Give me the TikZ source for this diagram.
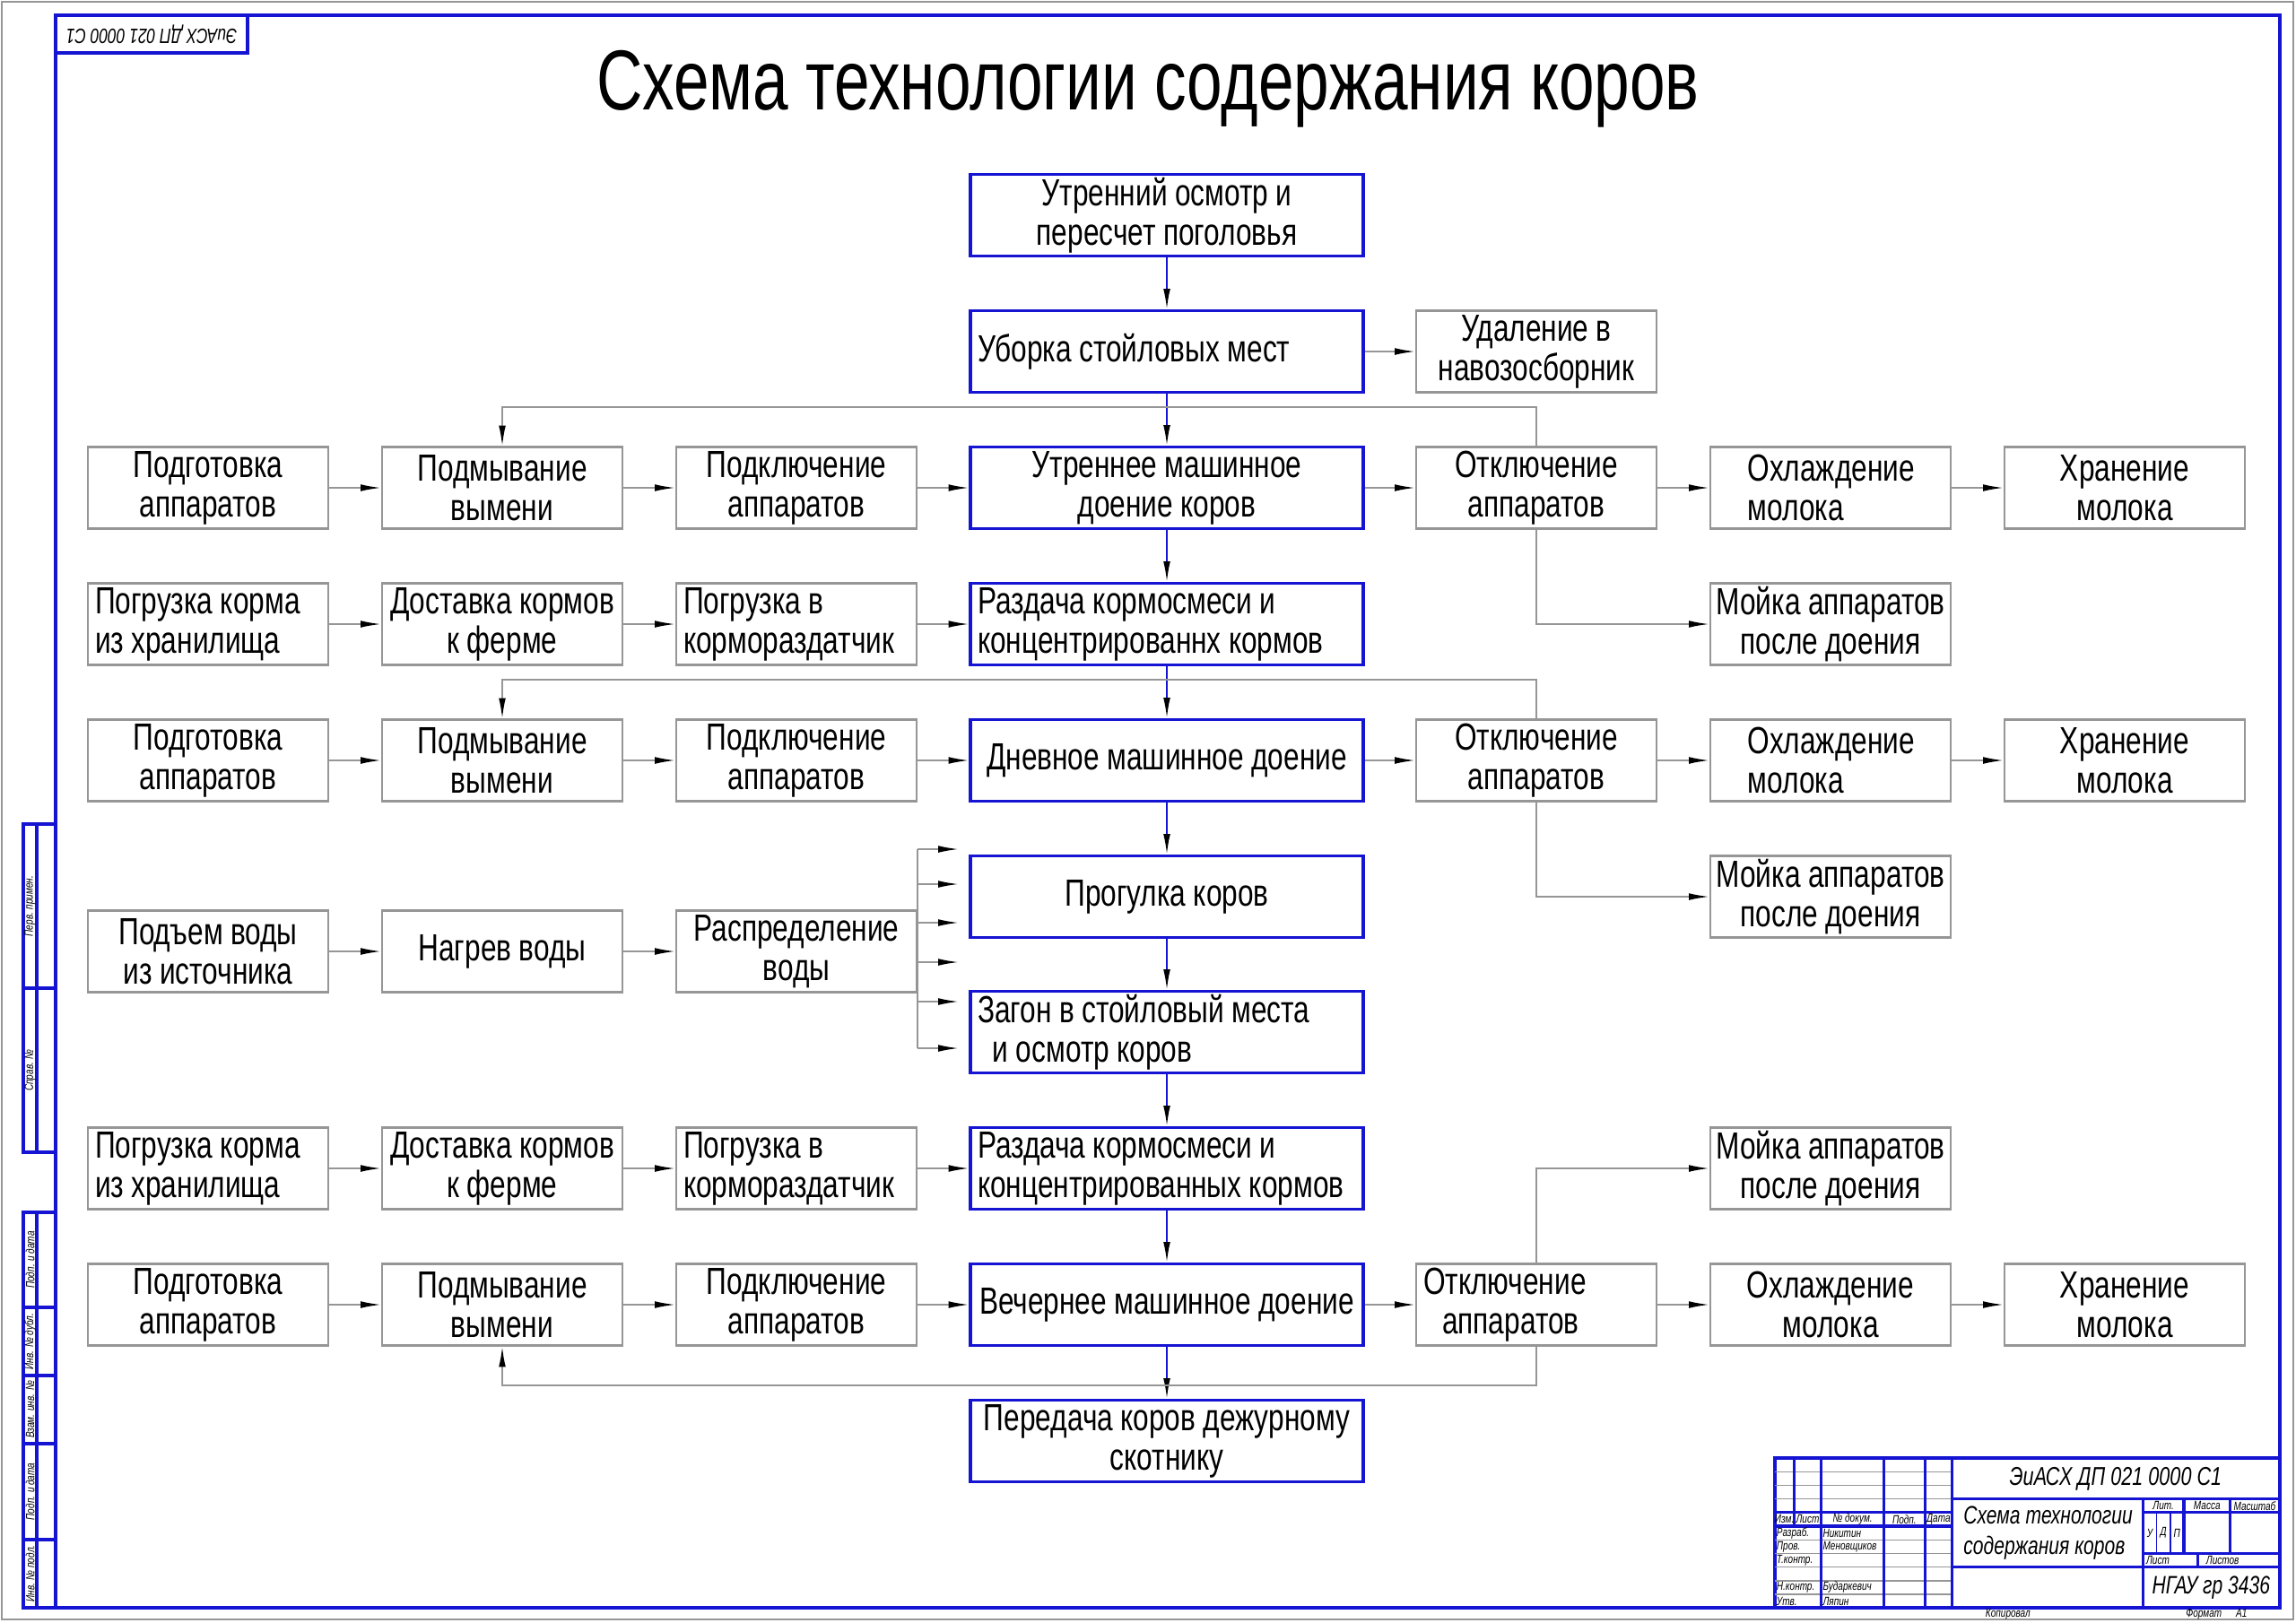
\documentclass[tikz,border=0pt]{standalone}
\usepackage{fontspec}
\setmainfont{Liberation Sans}[FakeStretch=0.75]
\usetikzlibrary{arrows.meta}
\definecolor{frameblue}{RGB}{20,20,210}
\definecolor{linegray}{RGB}{150,150,150}
\newcommand\tightsp{\spaceskip=0.2em\relax}

\begin{document}
\begin{tikzpicture}[
    box/.style={draw=linegray, line width=0.6pt, text width=2.52cm, minimum height=0.91cm,
      inner xsep=0.08cm, inner ysep=0pt, align=center,
      font=\fontsize{12}{12.5}\selectfont, execute at begin node=\tightsp},
    widebox/.style={box, text width=2.64cm, inner xsep=0.02cm},
    mainbox/.style={box, draw=frameblue, line width=0.9pt, text width=4.22cm},
    arr/.style={draw=linegray, line width=0.5pt, -{Latex[length=6.5pt,width=2.2pt,color=black]}},
    marr/.style={arr, draw=frameblue},
    tbline/.style={draw=frameblue, line width=0.9pt},
    tbthin/.style={draw=linegray, line width=0.4pt},
    lbl/.style={font=\fontsize{3.8}{4}\selectfont\itshape, inner sep=0pt}]
    \useasboundingbox (0,0) rectangle (25.6,-18.09);

    % sheet
    \draw[linegray, line width=0.6pt] (0.02,-0.02) rectangle (25.57,-18.06);
    \draw[tbline] (0.62,-0.17) rectangle (25.42,-17.93);
    \draw[tbline] (0.62,-0.17) rectangle (2.76,-0.59);
    \node[lbl, font=\fontsize{6.6}{7}\selectfont\itshape, rotate=180] (stamp) at (1.69,-0.38) {ЭиАСХ ДП 021 0000 С1};

    % left strip
    \draw[tbline] (0.26,-9.19) rectangle (0.62,-12.85);
    \draw[tbline] (0.41,-9.19) -- (0.41,-12.85) (0.26,-11.02) -- (0.62,-11.02);
    \node[lbl, rotate=90] (s1) at (0.335,-10.105) {Перв. примен.};
    \node[lbl, rotate=90] (s2) at (0.335,-11.935) {Справ. №};
    \draw[tbline] (0.26,-13.52) rectangle (0.62,-17.93);
    \draw[tbline] (0.41,-13.52) -- (0.41,-17.93);
    \foreach \y in {14.58,15.34,16.10,17.17}
      \draw[tbline] (0.26,-\y) -- (0.62,-\y);
    \foreach \y/\t [count=\k] in {14.05/Подп. и дата, 14.96/Инв. № дубл., 15.72/Взам. инв. №,
        16.635/Подп. и дата, 17.55/Инв. № подл.}
      \node[lbl, rotate=90] (v\k) at (0.335,-\y) {\t};

    \node[font=\fontsize{27}{29}\selectfont, execute at begin node=\tightsp, anchor=base] (title) at (12.80,-1.22) {Схема технологии содержания коров};

    % main column
    \node[mainbox] (m1) at (13.01,-2.40) {Утренний осмотр и\\пересчет поголовья};
    \node[mainbox, align=left] (m2) at (13.01,-3.92) {Уборка стойловых мест};
    \node[mainbox] (m3) at (13.01,-5.44) {Утреннее машинное\\доение коров};
    \node[mainbox, align=left] (m4) at (13.01,-6.96) {Раздача кормосмеси и\\концентрированнх кормов};
    \node[mainbox] (m5) at (13.01,-8.48) {Дневное машинное доение};
    \node[mainbox] (m6) at (13.01,-10.00) {Прогулка коров};
    \node[mainbox, align=left] (m7) at (13.01,-11.51) {Загон в стойловый места\\\hspace{0.4em}и осмотр коров};
    \node[mainbox, align=left] (m8) at (13.01,-13.03) {Раздача кормосмеси и\\концентрированных кормов};
    \node[mainbox] (m9) at (13.01,-14.55) {Вечернее машинное доение};
    \node[mainbox] (m10) at (13.01,-16.07) {Передача коров дежурному\\скотнику};

    \node[box] (e2) at (17.13,-3.92) {Удаление в\\навозосборник};

    \node[box] (a3) at (2.32,-5.44) {Подготовка\\аппаратов};
    \node[box] (b3) at (5.60,-5.44) {Подмывание\\вымени};
    \node[box] (c3) at (8.88,-5.44) {Подключение\\аппаратов};
    \node[box] (e3) at (17.13,-5.44) {Отключение\\аппаратов};
    \node[box, align=left] (f3) at (20.41,-5.44) {\hspace{0.8em}Охлаждение\\\hspace{0.8em}молока};
    \node[box] (g3) at (23.69,-5.44) {Хранение\\молока};

    \node[box, align=left] (a4) at (2.32,-6.96) {Погрузка корма\\из хранилища};
    \node[box] (b4) at (5.60,-6.96) {Доставка кормов\\к ферме};
    \node[box, align=left] (c4) at (8.88,-6.96) {Погрузка в\\кормораздатчик};
    \node[widebox] (f4) at (20.41,-6.96) {Мойка аппаратов\\после доения};

    \node[box] (a5) at (2.32,-8.48) {Подготовка\\аппаратов};
    \node[box] (b5) at (5.60,-8.48) {Подмывание\\вымени};
    \node[box] (c5) at (8.88,-8.48) {Подключение\\аппаратов};
    \node[box] (e5) at (17.13,-8.48) {Отключение\\аппаратов};
    \node[box, align=left] (f5) at (20.41,-8.48) {\hspace{0.8em}Охлаждение\\\hspace{0.8em}молока};
    \node[box] (g5) at (23.69,-8.48) {Хранение\\молока};

    \node[widebox] (f6) at (20.41,-10.00) {Мойка аппаратов\\после доения};

    \node[box] (w1) at (2.32,-10.61) {Подъем воды\\из источника};
    \node[box] (w2) at (5.60,-10.61) {Нагрев воды};
    \node[box] (w3) at (8.88,-10.61) {Распределение\\воды};

    \node[box, align=left] (a8) at (2.32,-13.03) {Погрузка корма\\из хранилища};
    \node[box] (b8) at (5.60,-13.03) {Доставка кормов\\к ферме};
    \node[box, align=left] (c8) at (8.88,-13.03) {Погрузка в\\кормораздатчик};
    \node[widebox] (f8) at (20.41,-13.03) {Мойка аппаратов\\после доения};

    \node[box] (a9) at (2.32,-14.55) {Подготовка\\аппаратов};
    \node[box] (b9) at (5.60,-14.55) {Подмывание\\вымени};
    \node[box] (c9) at (8.88,-14.55) {Подключение\\аппаратов};
    \node[box, align=left] (e9) at (17.13,-14.55) {Отключение\\\hspace{0.5em}аппаратов};
    \node[box] (f9) at (20.41,-14.55) {Охлаждение\\молока};
    \node[box] (g9) at (23.69,-14.55) {Хранение\\молока};

    % connectors
    \foreach \i/\j in {1/2,2/3,3/4,4/5,5/6,6/7,7/8,8/9,9/10}
      \draw[marr] (m\i) -- (m\j);
    \draw[arr] (m2) -- (e2);
    \foreach \r in {3,5,9}
      \foreach \p/\q in {a/b,b/c,c/m,m/e,e/f,f/g}
        \draw[arr] (\p\r) -- (\q\r);
    \foreach \r in {4,8}
      \foreach \p/\q in {a/b,b/c,c/m}
        \draw[arr] (\p\r) -- (\q\r);
    \draw[arr] (w1) -- (w2);
    \draw[arr] (w2) -- (w3);

    \coordinate (fb3) at (5.60,-4.54);
    \coordinate (fb5) at (5.60,-7.58);
    \coordinate (fb9) at (5.60,-15.45);
    \draw[arr] (e3.north) |- (fb3) -- (b3.north);
    \draw[arr] (e5.north) |- (fb5) -- (b5.north);
    \draw[arr] (e9.south) |- (fb9) -- (b9.south);
    \draw[arr] (e3.south) |- (f4.west);
    \draw[arr] (e5.south) |- (f6.west);
    \draw[arr] (e9.north) |- (f8.west);

    \foreach \y [count=\k] in {9.47,9.86,10.29,10.73,11.17,11.69} {
      \coordinate (t\k) at (10.69,-\y);
      \draw[arr] (w3.east |- t\k) -- (t\k);
    }
    \draw[linegray, line width=0.5pt] (w3.east |- t1) -- (w3.east |- t6);

    % title block
    \begin{scope}[shift={(19.79,-16.26)}, x=0.0304cm, y=-0.0304cm]
      \draw[tbline] (0,0) rectangle (185,55);
      \foreach \y in {5,10,15,30,35,40,45,50}
        \draw[tbthin] (0,\y) -- (65,\y);
      \draw[tbline] (0,20) -- (65,20) (0,25) -- (65,25);
      \draw[tbline] (7,0) -- (7,25);
      \foreach \x in {17,40,55,65}
        \draw[tbline] (\x,0) -- (\x,55);
      \draw[tbline] (65,15) -- (185,15) (135,15) -- (135,55);
      \draw[tbline] (135,20) -- (185,20) (135,35) -- (185,35) (65,40) -- (185,40);
      \draw[tbline] (150,15) -- (150,35) (167,15) -- (167,35) (155,35) -- (155,40);
      \draw[frameblue, line width=0.5pt] (140,20) -- (140,35) (145,20) -- (145,35);

      \foreach \x/\t [count=\k] in {3.5/Изм., 12/Лист, 28.5/№ докум., 47.5/Подп., 60/Дата}
        \node[lbl] (hd\k) at (\x,22.5) {\t};
      \foreach \y/\r/\n [count=\k] in {27.5/Разраб./Никитин, 32.5/Пров./Меновщиков, 37.5/Т.контр./,
          47.5/Н.контр./Бударкевич, 52.5/Утв./Ляпин} {
        \node[lbl, anchor=west] (rl\k) at (0.4,\y) {\r};
        \node[lbl, anchor=west] (nm\k) at (17.4,\y) {\n};
      }
      \node[lbl, font=\fontsize{8.2}{9}\selectfont\itshape] (code) at (125,7.5) {ЭиАСХ ДП 021 0000 С1};
      \node[lbl, font=\fontsize{8}{9.5}\selectfont\itshape, anchor=west, align=left] (name) at (69,27.5)
        {Схема технологии\\содержания коров};
      \node[lbl] (lit) at (142.5,17.5) {Лит.};
      \node[lbl] (mass) at (158.5,17.5) {Масса};
      \node[lbl] (scl) at (176,17.5) {Масштаб};
      \foreach \x/\t [count=\k] in {137.5/У, 142.5/Д, 147.5/П}
        \node[lbl] (lt\k) at (\x,27.5) {\t};
      \node[lbl, anchor=west] (sh) at (136,37.5) {Лист};
      \node[lbl, anchor=west] (shs) at (158,37.5) {Листов};
      \node[lbl, font=\fontsize{8}{9}\selectfont\itshape] (org) at (160,47.5) {НГАУ гр 3436};
      \node[lbl] (copy) at (85.5,57.3) {Копировал};
      \node[lbl] (fmt) at (162,57.3) {Формат\hspace{1.2em}A1};
    \end{scope}
\end{tikzpicture}
\end{document}
